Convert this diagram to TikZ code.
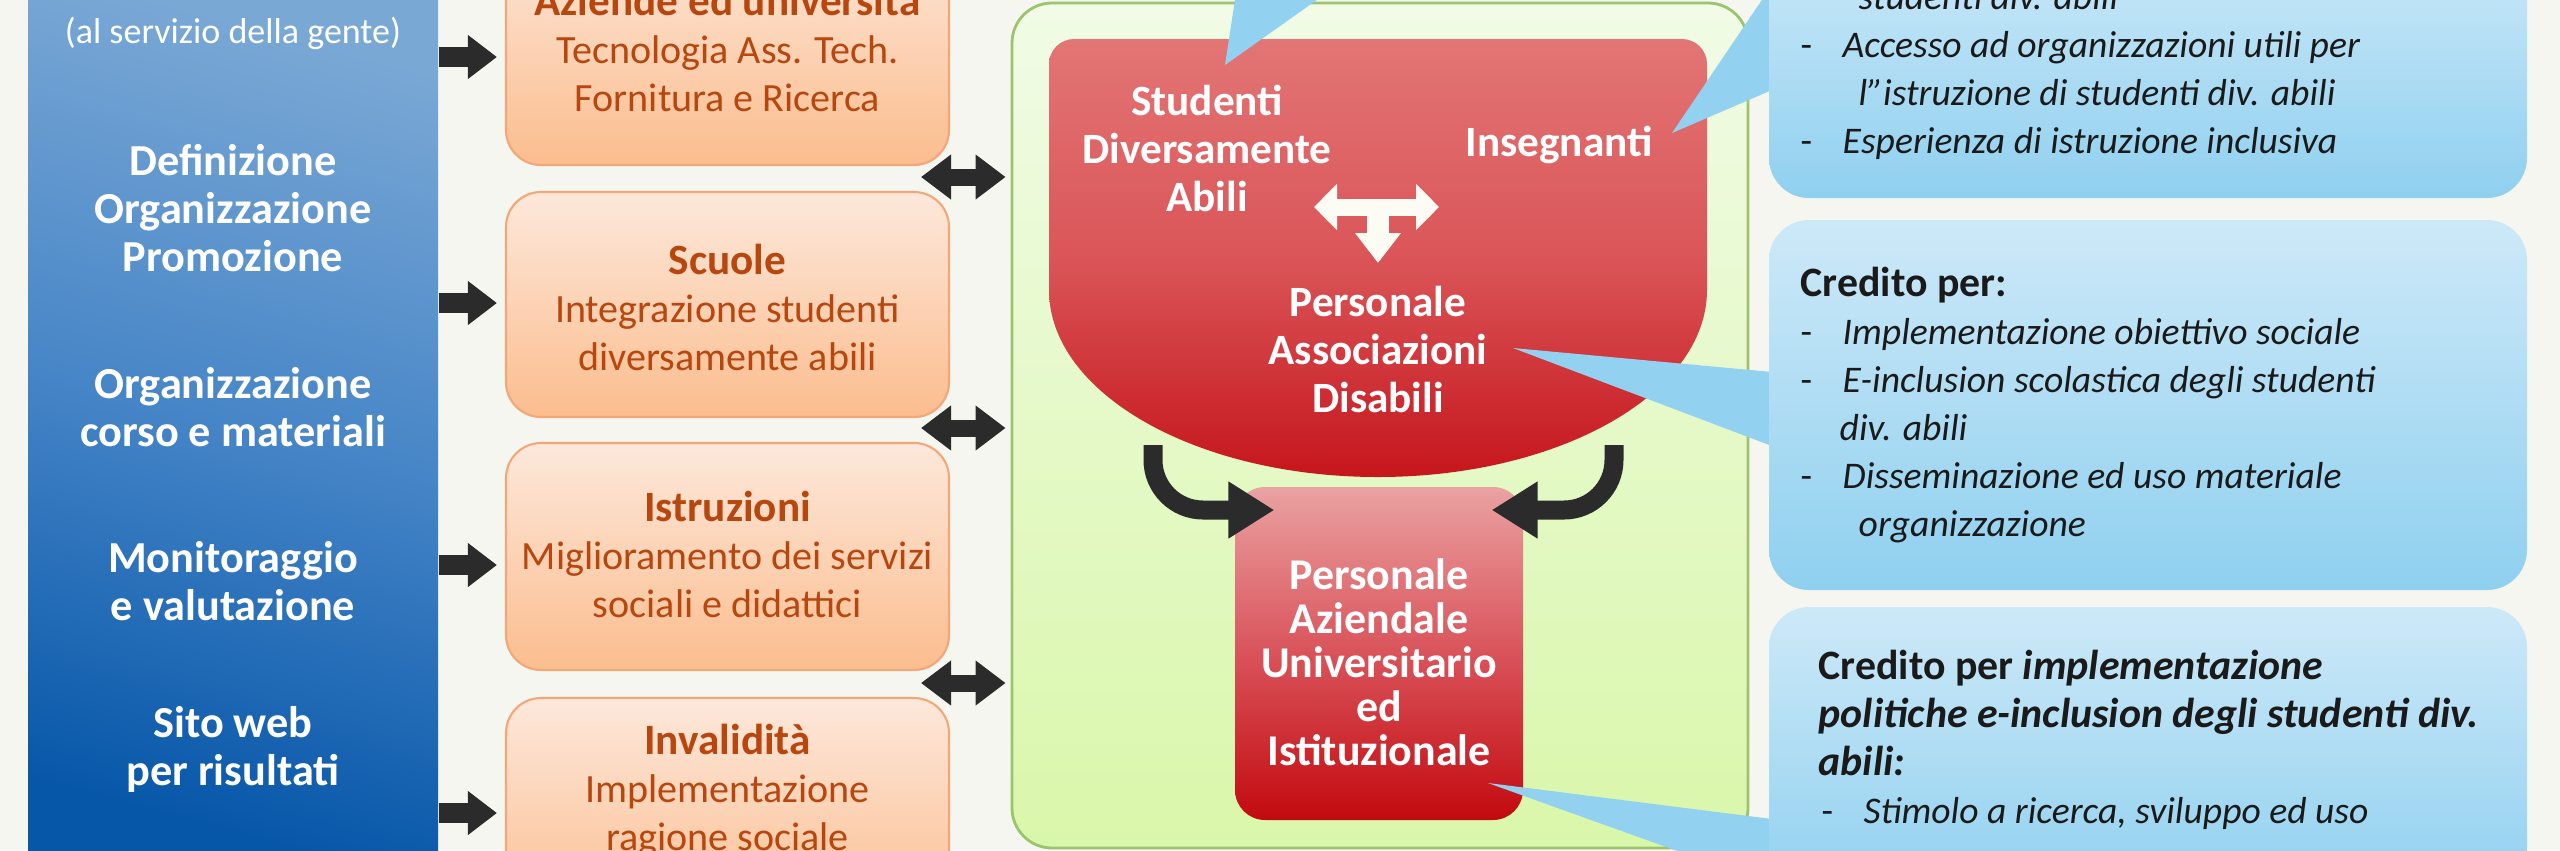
\documentclass[tikz,border=0pt]{standalone}
\usepackage{fontspec}
\setmainfont{Carlito}
\usetikzlibrary{arrows.meta,calc}
\definecolor{bgc}{HTML}{F6F6F0}
\definecolor{lbtop}{HTML}{7AA8D5}
\definecolor{lbmid}{HTML}{4685C7}
\definecolor{lbbot}{HTML}{0757A9}
\definecolor{ortop}{HTML}{FDE8DB}
\definecolor{orbot}{HTML}{FBBD8E}
\definecolor{orline}{HTML}{F3A778}
\definecolor{ortext}{HTML}{B8460F}
\definecolor{grtop}{HTML}{F1FBE6}
\definecolor{grbot}{HTML}{D9F7AA}
\definecolor{grline}{HTML}{9CC46E}
\definecolor{rdtop}{HTML}{E37575}
\definecolor{rdmid}{HTML}{DA5558}
\definecolor{rdbot}{HTML}{C5161C}
\definecolor{lrtop}{HTML}{EAA2A2}
\definecolor{lrmid}{HTML}{D9535A}
\definecolor{lrbot}{HTML}{C20A0F}
\definecolor{bltop}{HTML}{CDE9F8}
\definecolor{blbot}{HTML}{8FD0EF}
\definecolor{ptr}{HTML}{92D1EF}
\definecolor{arr}{HTML}{2B2B2B}
\definecolor{rtext}{HTML}{1A1A1A}
\definecolor{wharr}{HTML}{FCFCF5}
\begin{document}
\begin{tikzpicture}[x=0.1mm,y=-0.1mm,
  lbox/.style={rectangle, inner sep=0, minimum width=41mm, minimum height=89mm,
    top color=lbtop, bottom color=lbbot, middle color=lbmid, shading angle=-15},
  ltext/.style={text=white, align=center, font=\fontsize{12.6pt}{13.66pt}\selectfont\bfseries, inner sep=0},
  obox/.style={rectangle, rounded corners=3.5mm, draw=orline, line width=0.6pt,
    top color=ortop, bottom color=orbot, minimum width=44.3mm, inner sep=0},
  otext/.style={text=ortext, align=center, font=\fontsize{11.4pt}{13.66pt}\selectfont, inner sep=0},
  gbox/.style={rectangle, rounded corners=4mm, draw=grline, line width=0.8pt,
    top color=grtop, bottom color=grbot, minimum width=73.6mm, minimum height=84.5mm, inner sep=0},
  lrbox/.style={rectangle, rounded corners=3mm, top color=lrtop, bottom color=lrbot, middle color=lrmid,
    minimum width=28.8mm, minimum height=33.3mm, inner sep=0},
  bbox/.style={rectangle, rounded corners=4mm, top color=bltop, bottom color=blbot,
    minimum width=75.8mm, inner sep=0},
  btext/.style={text=rtext, align=left, font=\fontsize{10.7pt}{13.66pt}\selectfont, inner sep=0, anchor=west},
  redtext/.style={text=white, align=center, font=\fontsize{12.3pt}{13.66pt}\selectfont\bfseries, inner sep=0},
  blk/.style={draw=arr, line width=2mm, -{Triangle[length=2.9mm,width=4.2mm]}},
  dbl/.style={draw=arr, line width=1.7mm, {Triangle[length=3mm,width=4.3mm]}-{Triangle[length=3mm,width=4.3mm]}},
  crv/.style={draw=arr, line width=1.9mm, rounded corners=5mm, -{Triangle[length=4.6mm,width=5.4mm]}},
  wht/.style={draw=wharr, line width=1.7mm}
]
\useasboundingbox (0,0) rectangle (2560,850);
\clip (0,0) rectangle (2560,850);
\fill[bgc] (0,0) rectangle (2560,850);

% left column
\node[lbox] (lb) at (233,425) {};
\node[ltext, font=\fontsize{10.25pt}{13.66pt}\selectfont] (l0) at (233,33) {(al servizio della gente)};
\node[ltext] (l1) at (233,208) {Definizione\\Organizzazione\\Promozione};
\node[ltext] (l2) at (233,407) {Organizzazione\\corso e materiali};
\node[ltext] (l3) at (233,581) {Monitoraggio\\e valutazione};
\node[ltext] (l4) at (233,749) {Sito web\\per risultati};

% orange column
\node[obox, minimum height=23.4mm] (o1) at (727.5,48) {};
\node[obox, minimum height=22.5mm] (o2) at (727.5,304.5) {};
\node[obox, minimum height=22.7mm] (o3) at (727.5,556.5) {};
\node[obox, minimum height=22.5mm] (o4) at (727.5,810.5) {};
\node[otext] (t1) at (727.5,48) {{\fontsize{12.3pt}{13.66pt}\selectfont\bfseries Aziende ed università}\\Tecnologia Ass. Tech.\\Fornitura e Ricerca};
\node[otext] (t2) at (727.5,307) {{\fontsize{12.3pt}{13.66pt}\selectfont\bfseries Scuole}\\Integrazione studenti\\diversamente abili};
\node[otext] (t3) at (727.5,554) {{\fontsize{12.3pt}{13.66pt}\selectfont\bfseries Istruzioni}\\Miglioramento dei servizi\\sociali e didattici};
\node[otext] (t4) at (727.5,791) {{\fontsize{12.3pt}{13.66pt}\selectfont\bfseries Invalidità}\\Implementazione\\ragione sociale};

% green frame
\node[gbox] (gb) at (1380,425.5) {};

% arrows left -> orange
\coordinate (y1) at (0,57);
\coordinate (y2) at (0,303);
\coordinate (y3) at (0,565);
\coordinate (y4) at (0,813);
\draw[blk, shorten >=0.8mm] (lb.east |- y1) -- (o1.west |- y1);
\draw[blk, shorten >=0.8mm] (lb.east |- y2) -- (o2.west |- y2);
\draw[blk, shorten >=0.8mm] (lb.east |- y3) -- (o3.west |- y3);
\draw[blk, shorten >=0.8mm] (lb.east |- y4) -- (o4.west |- y4);

% double arrows orange <-> green
\coordinate (d1) at (921,177);
\coordinate (d2) at (921,428);
\coordinate (d3) at (921,683);
\draw[dbl, shorten >=0.5mm] (d1) -- (gb.west |- d1);
\draw[dbl, shorten >=0.5mm] (d2) -- (gb.west |- d2);
\draw[dbl, shorten >=0.5mm] (d3) -- (gb.west |- d3);

% lower red box
\node[lrbox] (lr) at (1379,653.5) {};

% big red shape
\path[top color=rdtop, bottom color=rdbot, middle color=rdmid]
  (1049,290) -- (1049,64) arc[start angle=180, end angle=90, radius=2.5mm]
  -- (1682,39) arc[start angle=90, end angle=0, radius=2.5mm]
  -- (1707,290) arc[start angle=0, end angle=-180, x radius=32.9mm, y radius=18.7mm] -- cycle;

% curved arrows
\coordinate (cL) at (1153,445);
\coordinate (cR) at (1614,445);
\coordinate (hy) at (0,510);
\draw[crv] (cL) |- ([xshift=4mm]lr.west |- hy);
\draw[crv] (cR) |- ([xshift=-3.2mm]lr.east |- hy);

% callout pointers
\fill[ptr] (1225,65) -- (1238,-20) -- (1345,-20) -- cycle;
\fill[ptr] (1672,133) -- (1772,-15) -- (1772,90) -- cycle;
\fill[ptr] (1513,348) -- (1772,372) -- (1772,446) -- cycle;
\fill[ptr] (1488,783) -- (1772,819) -- (1772,885) -- cycle;

% right boxes
\node[bbox, minimum height=25.8mm] (b1) at (2148,69) {};
\node[bbox, minimum height=37mm] (b2) at (2148,405) {};
\node[bbox, minimum height=29.3mm] (b3) at (2148,753.5) {};

\node[btext] (r1) at (1800,71) {\hspace*{5.8mm}\textit{studenti div. abili}\\
\makebox[4.2mm][l]{-}\textit{Accesso ad organizzazioni utili per}\\
\hspace*{5.8mm}\textit{l''istruzione di studenti div. abili}\\
\makebox[4.2mm][l]{-}\textit{Esperienza di istruzione inclusiva}};
\node[btext] (r2) at (1800,405) {{\fontsize{11.9pt}{13.66pt}\selectfont\bfseries Credito per:}\\
\makebox[4.2mm][l]{-}\textit{Implementazione obiettivo sociale}\\
\makebox[4.2mm][l]{-}\textit{E-inclusion scolastica degli studenti}\\
\hspace*{3.9mm}\textit{div. abili}\\
\makebox[4.2mm][l]{-}\textit{Disseminazione ed uso materiale}\\
\hspace*{5.8mm}\textit{organizzazione}};
\node[btext] (r3) at (1818,740) {{\fontsize{11.9pt}{13.66pt}\selectfont\bfseries Credito per \textit{implementazione}}\\
{\fontsize{11.9pt}{13.66pt}\selectfont\bfseries\itshape politiche e-inclusion degli studenti div.}\\
{\fontsize{11.9pt}{13.66pt}\selectfont\bfseries\itshape abili:}\\
\hspace*{0.3mm}\makebox[4.2mm][l]{-}\textit{Stimolo a ricerca, sviluppo ed uso}};

% red texts
\node[redtext] (s1) at (1207,148) {Studenti\\Diversamente\\Abili};
\node[redtext] (s2) at (1559,145) {Insegnanti};
\node[redtext] (s3) at (1378,349) {Personale\\Associazioni\\Disabili};
\node[redtext, font=\fontsize{12.5pt}{12.5pt}\selectfont\bfseries] (s4) at (1379,662) {Personale\\Aziendale\\Universitario\\ed\\Istituzionale};

% white T arrow
\coordinate (tl) at (1314,207);
\coordinate (tr) at (1439,207);
\coordinate (tc) at (1378,207);
\coordinate (td) at (1378,263);
\draw[wht, {Triangle[length=2.3mm,width=4.5mm]}-{Triangle[length=2.3mm,width=4.5mm]}] (tl) -- (tr);
\draw[wht, line width=2.2mm, -{Triangle[length=3mm,width=4.4mm]}] (tc) -- (td);
\end{tikzpicture}
\end{document}
